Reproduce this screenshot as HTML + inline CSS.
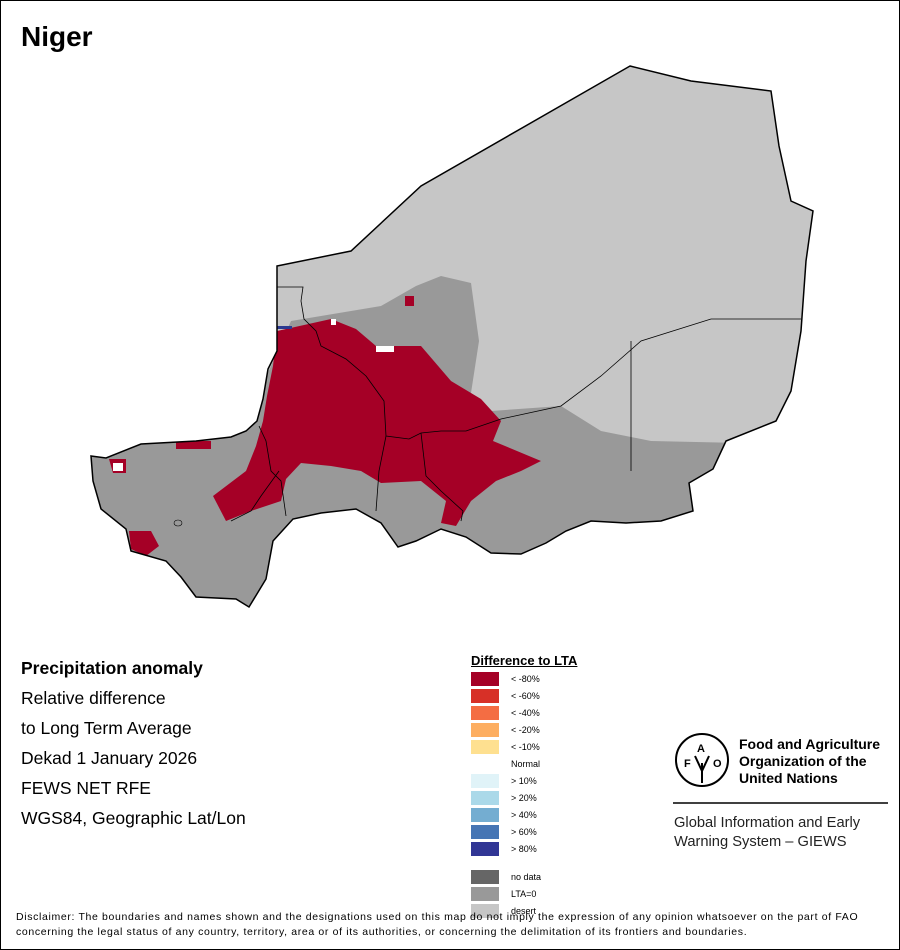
<!DOCTYPE html>
<html><head><style>
body{margin:0;background:#fff}
.w{position:relative;width:898px;height:948px;border:1px solid #000;overflow:hidden;font-family:"Liberation Sans",sans-serif}
.t{position:absolute;left:20px;font-size:17.5px;color:#000}
.lg{position:absolute;left:470px;width:28px;height:14px}
.ll{position:absolute;left:510px;font-size:9px}
</style></head><body><div class="w">
<div style="position:absolute;left:20px;top:20px;font-size:28px;font-weight:bold">Niger</div>
<svg width="900" height="950" style="position:absolute;left:0;top:0">
<defs><clipPath id="c"><path id="o" d="M629,65 L690,80 L770,90 L778,145 L790,200 L812,210 L805,260 L800,330 L790,390 L775,420 L725,440 L712,468 L688,482 L692,510 L660,520 L625,522 L590,520 L565,530 L545,542 L520,553 L490,552 L465,536 L440,528 L415,540 L397,546 L380,522 L355,508 L320,512 L292,518 L272,540 L265,578 L248,606 L235,598 L195,596 L180,576 L165,560 L130,550 L125,528 L100,508 L92,480 L90,455 L105,457 L140,443 L195,440 L230,436 L245,430 L256,420 L262,398 L267,368 L276,350 L276,265 L350,250 L420,185 Z"/></clipPath></defs>
<use href="#o" fill="#c6c6c6"/>
<g clip-path="url(#c)">
<path fill="#999" d="M250,410 L290,320 L380,305 L415,285 L440,275 L470,282 L478,340 L470,392 L490,410 L560,405 L600,430 L650,440 L740,442 L820,445 L820,620 L60,620 L60,410 Z"/>
<path fill="#a50026" d="M276,330 L330,318 L355,328 L375,345 L420,345 L450,380 L480,398 L500,420 L492,440 L540,460 L520,470 L495,480 L470,500 L455,525 L440,522 L445,500 L420,480 L380,482 L360,470 L330,465 L300,462 L285,478 L280,500 L250,510 L225,520 L212,495 L245,470 L255,445 L262,420 L266,395 L272,365 Z"/>
<path fill="#a50026" d="M128,530 L150,530 L158,545 L145,555 L130,548 Z M108,458 L125,458 L125,472 L112,472 Z M175,440 L210,440 L210,448 L175,448 Z M404,295 h9 v10 h-9 Z"/>
<path fill="#fff" d="M112,462 h10 v8 h-10 Z M375,345 h18 v6 h-18 Z M330,318 h5 v6 h-5 Z"/>
<path fill="#2b3990" d="M275,325 h16 v3 h-16 Z"/>
</g>
<use href="#o" fill="none" stroke="#000" stroke-width="1.5"/>
<g fill="none" stroke="#000" stroke-width="0.8">
<path d="M276,286 L302,286 L300,300 L303,318 L315,330 L320,345 L345,358 L365,375 L383,400 L385,435 L408,438 L420,432 L440,430 L465,430 L500,418 L560,405 L600,375 L640,340 L710,318 L800,318"/>
<path d="M630,340 L630,470"/><path d="M385,435 L378,470 L375,510"/>
<path d="M420,432 L425,475 L440,490 L462,510 L460,520"/>
<path d="M258,425 L265,440 L270,470 L280,480 L285,515"/>
<path d="M278,470 L260,495 L250,510 L230,520"/>
</g>
<g fill="none" stroke="#000" stroke-width="0.6"><ellipse cx="177" cy="522" rx="4" ry="3"/></g>
<line x1="672" y1="802" x2="887" y2="802" stroke="#000" stroke-width="1.5"/>
<circle cx="701" cy="759" r="26" fill="none" stroke="#000" stroke-width="2"/>
<text x="683" y="766" font-size="11" font-weight="bold" font-family="Liberation Sans">F</text>
<text x="696" y="751" font-size="11" font-weight="bold" font-family="Liberation Sans">A</text>
<text x="712" y="766" font-size="11" font-weight="bold" font-family="Liberation Sans">O</text>
<path d="M701,762 L701,782 M694,755 L701,770 L708,755" stroke="#000" stroke-width="2" fill="none"/>
</svg>
<div class="t" style="top:657px;font-weight:bold">Precipitation anomaly</div>
<div class="t" style="top:687px">Relative difference</div>
<div class="t" style="top:717px">to Long Term Average</div>
<div class="t" style="top:747px">Dekad 1 January 2026</div>
<div class="t" style="top:777px">FEWS NET RFE</div>
<div class="t" style="top:807px">WGS84, Geographic Lat/Lon</div>
<div style="position:absolute;left:470px;top:652px;font-size:13px;font-weight:bold;text-decoration:underline">Difference to LTA</div>
<div class="lg" style="top:671px;background:#a50026"></div><div class="ll" style="top:673px">&lt; -80%</div>
<div class="lg" style="top:688px;background:#d73027"></div><div class="ll" style="top:690px">&lt; -60%</div>
<div class="lg" style="top:705px;background:#f46d43"></div><div class="ll" style="top:707px">&lt; -40%</div>
<div class="lg" style="top:722px;background:#fdae61"></div><div class="ll" style="top:724px">&lt; -20%</div>
<div class="lg" style="top:739px;background:#fee090"></div><div class="ll" style="top:741px">&lt; -10%</div>
<div class="ll" style="top:758px">Normal</div>
<div class="lg" style="top:773px;background:#e0f3f8"></div><div class="ll" style="top:775px">&gt; 10%</div>
<div class="lg" style="top:790px;background:#abd9e9"></div><div class="ll" style="top:792px">&gt; 20%</div>
<div class="lg" style="top:807px;background:#74add1"></div><div class="ll" style="top:809px">&gt; 40%</div>
<div class="lg" style="top:824px;background:#4575b4"></div><div class="ll" style="top:826px">&gt; 60%</div>
<div class="lg" style="top:841px;background:#313695"></div><div class="ll" style="top:843px">&gt; 80%</div>
<div class="lg" style="top:869px;background:#666"></div><div class="ll" style="top:871px">no data</div>
<div class="lg" style="top:886px;background:#999"></div><div class="ll" style="top:888px">LTA=0</div>
<div class="lg" style="top:903px;background:#c6c6c6"></div><div class="ll" style="top:905px">desert</div>
<div style="position:absolute;left:738px;top:735px;font-size:14px;font-weight:bold;line-height:17px">Food and Agriculture<br>Organization of the<br>United Nations</div>
<div style="position:absolute;left:673px;top:813px;font-size:14.7px;line-height:19px;color:#222">Global Information and Early<br>Warning System – GIEWS</div>
<div style="position:absolute;left:15px;top:909px;font-size:10.5px;letter-spacing:0.65px;line-height:15px;white-space:nowrap">Disclaimer: The boundaries and names shown and the designations used on this map do not imply the expression of any opinion whatsoever on the part of FAO<br>concerning the legal status of any country, territory, area or of its authorities, or concerning the delimitation of its frontiers and boundaries.</div>
</div></body></html>
